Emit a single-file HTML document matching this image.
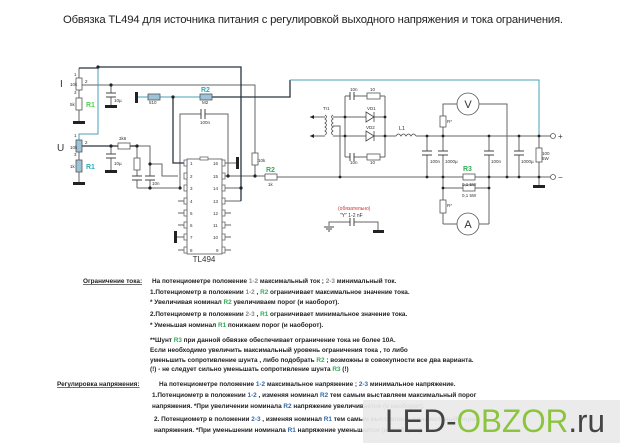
<!DOCTYPE html>
<html><head><meta charset="utf-8"><style>
html,body{margin:0;padding:0;background:#fff;}
svg{display:block;}
.t{font-family:"Liberation Sans","DejaVu Sans",sans-serif;}
</style></head><body>
<svg width="620" height="443" viewBox="0 0 620 443" xmlns="http://www.w3.org/2000/svg" class="t">
<rect width="620" height="443" fill="#fff"/>
<text x="63" y="23" font-size="11.3" fill="#222" textLength="500">Обвязка TL494 для источника питания с регулировкой выходного напряжения и тока ограничения.</text>

<g fill="none" stroke="#666" stroke-width="1">
<polyline points="82,85 255,85 255,153"/>
<line x1="255" y1="165" x2="255" y2="177"/>
<line x1="79" y1="68" x2="79" y2="78"/><line x1="79" y1="90" x2="79" y2="98"/><line x1="79" y1="110" x2="79" y2="122"/>
<line x1="111" y1="85" x2="111" y2="93"/><line x1="111" y1="97" x2="111" y2="106"/>
<line x1="79" y1="152" x2="79" y2="160"/><line x1="79" y1="172" x2="79" y2="182"/>
<line x1="111" y1="146" x2="111" y2="154"/><line x1="111" y1="158" x2="111" y2="171"/>
<line x1="137" y1="146" x2="137" y2="158"/><line x1="137" y1="170" x2="137" y2="176"/><line x1="137" y1="180" x2="137" y2="188"/>
<polyline points="137,146 150,146 150,176"/><line x1="150" y1="180" x2="150" y2="188"/>
<polyline points="150,164 162,164 162,176 178,176"/>
<polyline points="137,188 178,188"/>
<polyline points="180,188 180,114 201,114"/><polyline points="205,114 228,114 228,176"/>
<line x1="178" y1="201" x2="187" y2="201"/><line x1="178" y1="213" x2="187" y2="213"/><line x1="178" y1="225" x2="187" y2="225"/><line x1="175" y1="237" x2="187" y2="237"/><line x1="178" y1="250" x2="187" y2="250"/>
<line x1="222" y1="213" x2="231" y2="213"/><line x1="222" y1="225" x2="231" y2="225"/><line x1="222" y1="237" x2="231" y2="237"/><line x1="222" y1="250" x2="231" y2="250"/>
<line x1="222" y1="163" x2="237" y2="163"/>
<polyline points="222,188 241,188"/><polyline points="222,201 241,201"/>
<polyline points="222,176 265,176"/>
<line x1="277" y1="177" x2="552" y2="177"/>
<line x1="310" y1="117" x2="325" y2="117"/><line x1="310" y1="136" x2="325" y2="136"/>
<polyline points="333,117 385,117"/><line x1="333" y1="136" x2="396" y2="136"/>
<polyline points="333,126 340,126 340,177"/>
<polyline points="345,96 345,157"/><polyline points="385,96 385,157"/>
<line x1="345" y1="96" x2="350" y2="96"/><line x1="354" y1="96" x2="367" y2="96"/><line x1="380" y1="96" x2="385" y2="96"/>
<line x1="345" y1="157" x2="350" y2="157"/><line x1="354" y1="157" x2="367" y2="157"/><line x1="380" y1="157" x2="385" y2="157"/>
<line x1="416" y1="136" x2="552" y2="136"/>
<line x1="427" y1="136" x2="427" y2="151"/><line x1="427" y1="155" x2="427" y2="177"/>
<line x1="443" y1="136" x2="443" y2="151"/><line x1="443" y1="155" x2="443" y2="200"/><line x1="443" y1="213" x2="443" y2="224"/><line x1="443" y1="224" x2="457" y2="224"/>
<line x1="489" y1="136" x2="489" y2="151"/><line x1="489" y1="155" x2="489" y2="224"/><line x1="479" y1="224" x2="489" y2="224"/>
<line x1="519" y1="136" x2="519" y2="151"/><line x1="519" y1="155" x2="519" y2="177"/>
<line x1="539" y1="136" x2="539" y2="148"/><line x1="539" y1="162" x2="539" y2="185"/>
<polyline points="443,127 443,104 457,104"/><line x1="443" y1="116" x2="443" y2="136"/>
<polyline points="479,104 507,104 507,177"/>
<line x1="443" y1="188" x2="489" y2="188"/>
<polyline points="329,226 329,222 350,222"/><polyline points="354,222 378,222 378,230"/>
</g>
<g fill="none" stroke="#2a3440" stroke-width="1.3">
<polyline points="98,67 241,67 241,201"/>
<polyline points="79,68 98,68"/>
<polyline points="82,146 118,146"/><line x1="130" y1="146" x2="137" y2="146"/>
<polyline points="173,97 173,163 187,163"/>
<polyline points="212,97 290,97 290,80"/>
</g>
<g fill="none" stroke="#4aa0b8" stroke-width="1">
<polyline points="98,67 98,134 79,134 79,140"/>
<line x1="137" y1="97" x2="148" y2="97"/><line x1="160" y1="97" x2="200" y2="97"/>
<polyline points="290,80 539,80 539,136"/>
</g>
<g stroke="#555" stroke-width="0.8">
<rect x="76" y="78" width="6" height="12" fill="#fff"/>
<rect x="76" y="98" width="6" height="12" fill="#fff"/>
<rect x="76" y="140" width="6" height="12" fill="#9cc3d8"/>
<rect x="76" y="160" width="6" height="12" fill="#9cc3d8"/>
<rect x="118" y="143" width="12" height="6" fill="#fff"/>
<rect x="134" y="158" width="6" height="12" fill="#fff"/>
<rect x="148" y="94" width="12" height="6" fill="#9cc3d8"/>
<rect x="200" y="94" width="12" height="6" fill="#9cc3d8"/>
<rect x="252" y="153" width="6" height="12" fill="#fff"/>
<rect x="265" y="174" width="12" height="6" fill="#fff"/>
<rect x="187" y="159" width="35" height="95" fill="#fff"/>
<rect x="367" y="93" width="13" height="6" fill="#fff"/>
<rect x="367" y="154" width="13" height="6" fill="#fff"/>
<rect x="440" y="116" width="6" height="11" fill="#fff"/>
<rect x="440" y="200" width="6" height="13" fill="#fff"/>
<rect x="463" y="174" width="12" height="6" fill="#fff"/>
<rect x="463" y="185" width="12" height="6" fill="#fff"/>
<rect x="536" y="148" width="6" height="14" fill="#fff"/>
<circle cx="468" cy="104" r="11" fill="#fff"/>
<circle cx="468" cy="224" r="11" fill="#fff"/>
<circle cx="553" cy="136" r="2.5" fill="#fff"/><circle cx="553" cy="177" r="2.5" fill="#fff"/>
</g>
<g stroke="#666" stroke-width="0.8" fill="#fff">
<rect x="184" y="160" width="3" height="6"/><rect x="184" y="173" width="3" height="6"/><rect x="184" y="185" width="3" height="6"/><rect x="184" y="198" width="3" height="6"/><rect x="184" y="210" width="3" height="6"/><rect x="184" y="222" width="3" height="6"/><rect x="184" y="234" width="3" height="6"/><rect x="184" y="247" width="3" height="6"/>
<rect x="222" y="160" width="3" height="6"/><rect x="222" y="173" width="3" height="6"/><rect x="222" y="185" width="3" height="6"/><rect x="222" y="198" width="3" height="6"/><rect x="222" y="210" width="3" height="6"/><rect x="222" y="222" width="3" height="6"/><rect x="222" y="234" width="3" height="6"/><rect x="222" y="247" width="3" height="6"/>
<rect x="200" y="157" width="8" height="3"/>
</g>
<g stroke="#444" stroke-width="1">
<line x1="106" y1="93" x2="116" y2="93"/><line x1="106" y1="97" x2="116" y2="97"/>
<line x1="106" y1="154" x2="116" y2="154"/><line x1="106" y1="158" x2="116" y2="158"/>
<line x1="132" y1="176" x2="142" y2="176"/><line x1="132" y1="180" x2="142" y2="180"/>
<line x1="145" y1="176" x2="155" y2="176"/><line x1="145" y1="180" x2="155" y2="180"/>
<line x1="201" y1="109" x2="201" y2="119"/><line x1="205" y1="109" x2="205" y2="119"/>
<line x1="350" y1="92" x2="350" y2="100"/><line x1="354" y1="92" x2="354" y2="100"/>
<line x1="350" y1="153" x2="350" y2="161"/><line x1="354" y1="153" x2="354" y2="161"/>
<line x1="422" y1="151" x2="432" y2="151"/><line x1="422" y1="155" x2="432" y2="155"/>
<line x1="438" y1="151" x2="448" y2="151"/><line x1="438" y1="155" x2="448" y2="155"/>
<line x1="484" y1="151" x2="494" y2="151"/><line x1="484" y1="155" x2="494" y2="155"/>
<line x1="514" y1="151" x2="524" y2="151"/><line x1="514" y1="155" x2="524" y2="155"/>
<line x1="350" y1="218" x2="350" y2="226"/><line x1="354" y1="218" x2="354" y2="226"/>
<line x1="324" y1="227" x2="334" y2="227"/><line x1="326" y1="229" x2="332" y2="229"/><line x1="328" y1="231" x2="330" y2="231"/>
</g>
<g fill="#222">
<rect x="73" y="121" width="12" height="3"/><rect x="105" y="105" width="12" height="3"/>
<rect x="73" y="182" width="12" height="3"/><rect x="105" y="170" width="12" height="3"/>
<rect x="135" y="92" width="3" height="11"/><rect x="236" y="157" width="3" height="12"/>
<rect x="174" y="231" width="3" height="12"/><rect x="533" y="185" width="12" height="3"/>
<rect x="373" y="230" width="11" height="3"/>
<path d="M310,117 l4,-2 v4z M310,136 l4,-2 v4z"/>
</g>
<g stroke="#444" stroke-width="0.8" fill="#fff">
<path d="M366,112 l8,5 l-8,5z"/><line x1="374" y1="112" x2="374" y2="122"/>
<path d="M366,131 l8,5 l-8,5z"/><line x1="374" y1="131" x2="374" y2="141"/>
</g>
<g fill="none" stroke="#555" stroke-width="0.8">
<path d="M325,115 q3,2 0,4 q3,2 0,4 q3,2 0,4 q3,2 0,4 q3,2 0,4"/>
<path d="M333,115 q-3,2 0,4 q-3,2 0,4 q-3,2 0,4 q-3,2 0,4 q-3,2 0,4"/>
<path d="M396,136 q2.5,-4 5,0 q2.5,-4 5,0 q2.5,-4 5,0 q2.5,-4 5,0"/>
</g>
<g fill="#222">
<circle cx="98" cy="67" r="1.6"/><circle cx="111" cy="85" r="1.6"/><circle cx="173" cy="97" r="1.6"/>
<circle cx="111" cy="146" r="1.6"/><circle cx="137" cy="146" r="1.6"/><circle cx="150" cy="164" r="1.6"/>
<circle cx="150" cy="188" r="1.6"/><circle cx="180" cy="188" r="1.6"/><circle cx="228" cy="176" r="1.6"/>
<circle cx="255" cy="176" r="1.6"/><circle cx="241" cy="188" r="1.6"/>
<circle cx="345" cy="117" r="1.4"/><circle cx="345" cy="136" r="1.4"/><circle cx="385" cy="117" r="1.4"/><circle cx="385" cy="136" r="1.4"/>
<circle cx="340" cy="177" r="1.4"/><circle cx="427" cy="136" r="1.4"/><circle cx="443" cy="136" r="1.4"/><circle cx="489" cy="136" r="1.4"/><circle cx="519" cy="136" r="1.4"/><circle cx="539" cy="136" r="1.4"/>
<circle cx="427" cy="177" r="1.4"/><circle cx="443" cy="177" r="1.4"/><circle cx="489" cy="177" r="1.4"/><circle cx="507" cy="177" r="1.4"/><circle cx="519" cy="177" r="1.4"/><circle cx="539" cy="177" r="1.4"/>
<circle cx="443" cy="188" r="1.4"/><circle cx="489" cy="188" r="1.4"/>
</g>
<g font-size="4.5" fill="#333">
<text x="74" y="76">1</text><text x="85" y="83">2</text><text x="74" y="94">3</text><text x="70" y="86">10k</text><text x="70" y="106">5k</text>
<text x="74" y="137">1</text><text x="85" y="144">2</text><text x="74" y="156">3</text><text x="70" y="149">10k</text><text x="70" y="168">1k</text>
<text x="114" y="102">10µ</text><text x="114" y="165">10µ</text><text x="119" y="140">3k6</text><text x="152" y="185">10n</text>
<text x="149" y="104">510</text><text x="202" y="104">M2</text><text x="200" y="124">100n</text><text x="258" y="162">10k</text><text x="268" y="186">1k</text>
<text x="190" y="165">1</text><text x="190" y="178">2</text><text x="190" y="190">3</text><text x="190" y="203">4</text><text x="190" y="215">5</text><text x="190" y="227">6</text><text x="190" y="239">7</text><text x="190" y="252">8</text>
<text x="213" y="165">16</text><text x="213" y="178">15</text><text x="213" y="190">14</text><text x="213" y="203">13</text><text x="213" y="215">12</text><text x="213" y="227">11</text><text x="213" y="239">10</text><text x="216" y="252">9</text>
<text x="323" y="110">Tr1</text><text x="367" y="110">VD1</text><text x="366" y="129">VD2</text><text x="350" y="91">10n</text><text x="370" y="91">10</text><text x="350" y="164">10n</text><text x="370" y="164">10</text>
<text x="430" y="163">100n</text><text x="445" y="163">1000µ</text><text x="491" y="163">100n</text><text x="521" y="163">1000µ</text><text x="542" y="155">100</text><text x="542" y="160">5W</text>
<text x="447" y="123">R*</text><text x="447" y="207">R*</text><text x="462" y="186">0,1 5W</text><text x="462" y="197">0,1 5W</text>
<text x="340" y="217" font-size="5">"Y" 1-2 nF</text>
</g>
<text x="338" y="210" font-size="5" fill="#c33">(обязательно)</text>
<text x="399" y="130" font-size="5.5" fill="#333">L1</text>
<text x="468" y="108" font-size="11" fill="#333" text-anchor="middle">V</text>
<text x="468" y="228" font-size="11" fill="#333" text-anchor="middle">A</text>
<text x="558" y="139" font-size="8" fill="#333">+</text><text x="558" y="180" font-size="8" fill="#333">−</text>
<text x="60" y="87" font-size="10" fill="#333">I</text><text x="57" y="151" font-size="10" fill="#333">U</text>
<g font-size="7" font-weight="bold">
<text x="86" y="107" fill="#5c5">R1</text><text x="86" y="169" fill="#3ab">R1</text>
<text x="201" y="92" fill="#3ab">R2</text><text x="266" y="172" fill="#3a5">R2</text>
<text x="463" y="171" fill="#3a5">R3</text>
</g>
<text x="204" y="262" font-size="8" fill="#333" text-anchor="middle">TL494</text>

<g font-size="6.4" font-weight="bold" fill="#222">
<text x="83" y="283" text-decoration="underline">Ограничение тока:</text>
<text x="152" y="283">На потенциометре положение <tspan fill="#888">1-2</tspan>  максимальный  ток ;  <tspan fill="#888">2-3</tspan> минимальный ток.</text>
<text x="150" y="294">1.Потенциометр в положении <tspan fill="#888">1-2</tspan> , <tspan fill="#3a5">R2</tspan>  ограничивает максимальное значение тока.</text>
<text x="150" y="304">* Увеличивая номинал <tspan fill="#3a5">R2</tspan> увеличиваем порог (и наоборот).</text>
<text x="150" y="316">2.Потенциометр в положении <tspan fill="#888">2-3</tspan> , <tspan fill="#3a5">R1</tspan>  ограничивает минимальное значение тока.</text>
<text x="150" y="327">* Уменьшая  номинал <tspan fill="#3a5">R1</tspan> понижаем порог (и наоборот).</text>
<text x="150" y="342">**Шунт <tspan fill="#3a5">R3</tspan> при данной обвязке обеспечивает ограничение тока не более 10А.</text>
<text x="150" y="352">Если необходимо увеличить максимальный уровень ограничения тока , то либо</text>
<text x="150" y="362">уменьшить сопротивление шунта , либо подобрать <tspan fill="#3a5">R2</tspan> ; возможны в совокупности все два варианта.</text>
<text x="150" y="371">(!) - не следует сильно уменьшать сопротивление шунта <tspan fill="#3a5">R3</tspan> (!)</text>
<text x="57" y="386" text-decoration="underline">Регулировка напряжения:</text>
<text x="159" y="386">На потенциометре положение  <tspan fill="#36a">1-2</tspan>  максимальное напряжение ;  <tspan fill="#36a">2-3</tspan> минимальное напряжение.</text>
<text x="152" y="397">1.Потенциометр в положении <tspan fill="#36a">1-2</tspan> , изменяя номинал <tspan fill="#36a">R2</tspan> тем самым выставляем максимальный порог</text>
<text x="152" y="408">напряжения.  *При увеличении номинала <tspan fill="#36a">R2</tspan> напряжение увеличивается (и наоборот).</text>
<text x="154" y="421">2. Потенциометр в положении <tspan fill="#36a">2-3</tspan> , изменяя номинал <tspan fill="#36a">R1</tspan> тем самым выставляем минимальный порог</text>
<text x="154" y="432">напряжения. *При уменьшении номинала <tspan fill="#36a">R1</tspan> напряжение уменьшается (и наоборот).</text>
</g>
<rect x="363" y="400" width="257" height="43" fill="#e9e9e9" fill-opacity="0.93"/>
<text x="385" y="432" font-size="32" font-family="'Liberation Sans Narrow','Liberation Sans',sans-serif" textLength="220" lengthAdjust="spacingAndGlyphs"><tspan fill="#444">LED-</tspan><tspan fill="#8dc43f">OBZOR</tspan><tspan fill="#444">.ru</tspan></text>
</svg>
</body></html>
